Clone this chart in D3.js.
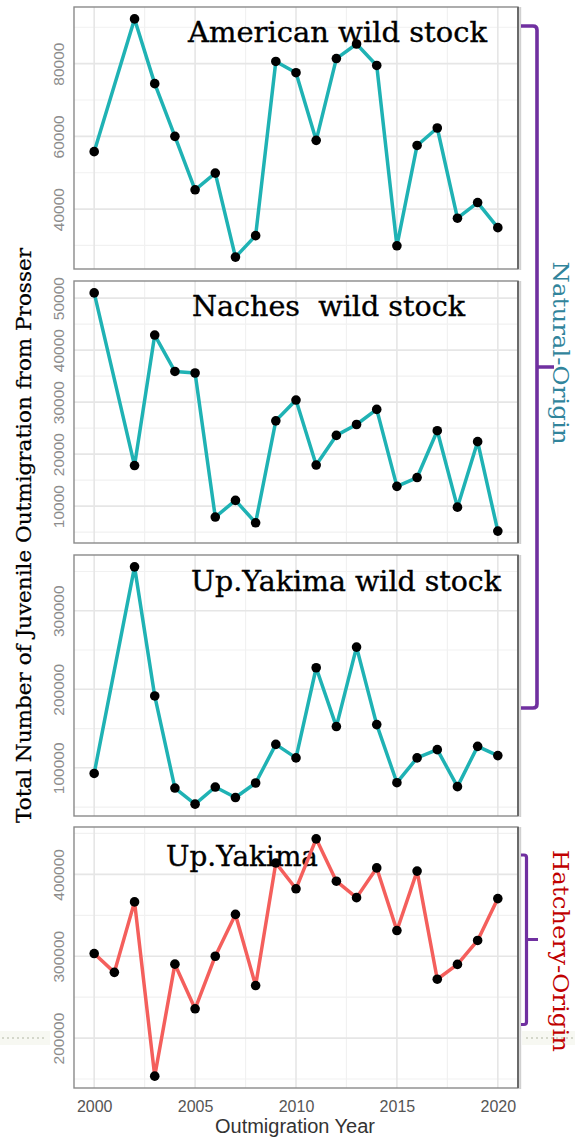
<!DOCTYPE html>
<html>
<head>
<meta charset="utf-8">
<script src="https://cdn.jsdelivr.net/npm/d3@7"></script>
<style>
  body { margin: 0; background: #fff; }
  svg { display: block; }
</style>
</head>
<body>
<script>
const width = 575;
const height = 1138;

// years with a value (wild stock has no 2001 count)
const wildYears = [2000, 2002, 2003, 2004, 2005, 2006, 2007, 2008, 2009, 2010,
  2011, 2012, 2013, 2014, 2015, 2016, 2017, 2018, 2019, 2020];
const hatcheryYears = [2000, 2001, 2002, 2003, 2004, 2005, 2006, 2007, 2008, 2009, 2010,
  2011, 2012, 2013, 2014, 2015, 2016, 2017, 2018, 2019, 2020];

const americanWild = [55800, 92300, 74500, 60000, 45300, 49900, 26800, 32700, 80600, 77500,
  58900, 81400, 85400, 79500, 29900, 57500, 62300, 37500, 41800, 34900];
const nachesWild = [51000, 17800, 42900, 35900, 35600, 7900, 11100, 6800, 26400, 30400,
  17900, 23600, 25700, 28600, 13800, 15500, 24500, 9800, 22400, 5200];
const upYakimaWild = [92800, 355900, 191500, 74200, 53700, 75500, 62100, 80600, 129800, 112600,
  227400, 152500, 253700, 155000, 81000, 112600, 123100, 76000, 127300, 115500];
const upYakimaHatchery = [303300, 280300, 366400, 153500, 290300, 235800, 300000, 351100, 264200, 414000,
  382400, 443400, 391700, 371600, 407900, 331400, 404000, 271900, 290000, 319300, 370400];

const panelTitles = ["American wild stock", "Naches  wild stock", "Up.Yakima wild stock", "Up.Yakima"];
const yTicksAmerican = [40000, 60000, 80000];
const yTicksNaches = [10000, 20000, 30000, 40000, 50000];
const yTicksUpYakima = [100000, 200000, 300000];
const yTicksHatchery = [200000, 300000, 400000];
const xTicks = [2000, 2005, 2010, 2015, 2020];

const teal = "#1fb2b4";
const red = "#f45f5c";

// layout of the four stacked panels
const panels = [
  { years: wildYears, values: americanWild, ticks: yTicksAmerican, color: teal, top: 7, bottom: 269, tx: 188, ty: 42, tw: 299 },
  { years: wildYears, values: nachesWild, ticks: yTicksNaches, color: teal, top: 281, bottom: 543, tx: 192, ty: 316, tw: 273 },
  { years: wildYears, values: upYakimaWild, ticks: yTicksUpYakima, color: teal, top: 555, bottom: 816, tx: 191, ty: 591, tw: 310 },
  { years: hatcheryYears, values: upYakimaHatchery, ticks: yTicksHatchery, color: red, top: 827, bottom: 1088, tx: 166, ty: 866, tw: 152 }
];
panels.forEach((p, i) => p.title = panelTitles[i]);

const left = 74;
const right = 518;

const svg = d3.select("body").append("svg")
  .attr("width", width)
  .attr("height", height);

const x = d3.scaleLinear()
  .domain([1999, 2021])
  .range([left, right]);

// faint dotted strip from the slide behind the chart
svg.append("rect").attr("x", 0).attr("y", 1031).attr("width", 50).attr("height", 14).attr("fill", "#f7f8f2");
svg.append("rect").attr("x", 522).attr("y", 1031).attr("width", 53).attr("height", 14).attr("fill", "#f7f8f2");
svg.append("line").attr("x1", 2).attr("x2", 46).attr("y1", 1038).attr("y2", 1038)
  .attr("stroke", "#c9ccbd").attr("stroke-width", 1.5).attr("stroke-dasharray", "2,3");
svg.append("line").attr("x1", 526).attr("x2", 575).attr("y1", 1038).attr("y2", 1038)
  .attr("stroke", "#c9ccbd").attr("stroke-width", 1.5).attr("stroke-dasharray", "2,3");

panels.forEach(p => {
  const ext = d3.extent(p.values);
  const pad = (ext[1] - ext[0]) * 0.05;
  const y = d3.scaleLinear()
    .domain([ext[0] - pad, ext[1] + pad])
    .range([p.bottom, p.top]);

  const g = svg.append("g");

  g.append("rect")
    .attr("x", left).attr("y", p.top)
    .attr("width", right - left).attr("height", p.bottom - p.top)
    .attr("fill", "white");

  // minor grid
  const step = p.ticks[1] - p.ticks[0];
  const minorY = d3.range(p.ticks[0] - step / 2, p.ticks[p.ticks.length - 1] + step, step)
    .filter(v => y(v) > p.top && y(v) < p.bottom);
  const minorX = [1999, 2002.5, 2007.5, 2012.5, 2017.5].filter(v => x(v) > left + 1);

  g.selectAll(".minor-y").data(minorY).enter().append("line")
    .attr("x1", left).attr("x2", right)
    .attr("y1", d => y(d)).attr("y2", d => y(d))
    .attr("stroke", "#f1f1f1").attr("stroke-width", 1.2);
  g.selectAll(".minor-x").data(minorX).enter().append("line")
    .attr("y1", p.top).attr("y2", p.bottom)
    .attr("x1", d => x(d)).attr("x2", d => x(d))
    .attr("stroke", "#f1f1f1").attr("stroke-width", 1.2);

  // major grid
  g.selectAll(".major-y").data(p.ticks).enter().append("line")
    .attr("x1", left).attr("x2", right)
    .attr("y1", d => y(d)).attr("y2", d => y(d))
    .attr("stroke", "#e6e6e6").attr("stroke-width", 1.6);
  g.selectAll(".major-x").data(xTicks).enter().append("line")
    .attr("y1", p.top).attr("y2", p.bottom)
    .attr("x1", d => x(d)).attr("x2", d => x(d))
    .attr("stroke", "#e6e6e6").attr("stroke-width", 1.6);

  // title
  g.append("text")
    .attr("x", p.tx).attr("y", p.ty)
    .attr("font-family", "DejaVu Serif")
    .attr("font-size", 27)
    .attr("fill", "black")
    .attr("stroke", "black")
    .attr("stroke-width", 0.35)
    .attr("textLength", p.tw)
    .attr("lengthAdjust", "spacingAndGlyphs")
    .style("white-space", "pre")
    .text(p.title);

  const line = d3.line()
    .x((d, i) => x(p.years[i]))
    .y(d => y(d));

  g.append("path")
    .datum(p.values)
    .attr("d", line)
    .attr("fill", "none")
    .attr("stroke", p.color)
    .attr("stroke-width", 3.5)
    .attr("stroke-linejoin", "round");

  g.selectAll("circle").data(p.values).enter().append("circle")
    .attr("cx", (d, i) => x(p.years[i]))
    .attr("cy", d => y(d))
    .attr("r", 4.8)
    .attr("fill", "black");

  // border
  g.append("rect")
    .attr("x", left).attr("y", p.top)
    .attr("width", right - left).attr("height", p.bottom - p.top)
    .attr("fill", "none")
    .attr("stroke", "#8a8a8a").attr("stroke-width", 1.4);
  g.append("line")
    .attr("x1", right).attr("x2", right).attr("y1", p.top).attr("y2", p.bottom)
    .attr("stroke", "#6a6a6a").attr("stroke-width", 2);
  g.append("line")
    .attr("x1", right + 2.2).attr("x2", right + 2.2).attr("y1", p.top).attr("y2", p.bottom + 1)
    .attr("stroke", "#d0d0d0").attr("stroke-width", 2);

  // y axis labels, rotated as in ggplot
  const yAxis = d3.axisLeft(y).tickValues(p.ticks).tickSize(0).tickFormat(d3.format("d"));
  const ya = svg.append("g")
    .attr("transform", `translate(64, 0)`)
    .call(yAxis);
  ya.select(".domain").remove();
  ya.selectAll("text")
    .attr("x", 0).attr("dy", 0)
    .attr("text-anchor", "middle")
    .attr("transform", "rotate(-90)")
    .attr("font-family", "Liberation Sans, Arial, sans-serif")
    .attr("font-size", 15.5)
    .attr("fill", "#8c8c8c");
});

// x axis under the last panel
const xAxis = d3.axisBottom(x).tickValues(xTicks).tickSize(0).tickPadding(12.5).tickFormat(d3.format("d"));
const xa = svg.append("g")
  .attr("transform", "translate(0, 1088)")
  .call(xAxis);
xa.select(".domain").remove();
xa.selectAll("text")
  .attr("font-family", "Liberation Sans, Arial, sans-serif")
  .attr("font-size", 16)
  .attr("fill", "#555");

svg.append("text")
  .attr("x", 295).attr("y", 1133)
  .attr("text-anchor", "middle")
  .attr("font-family", "Liberation Sans, Arial, sans-serif")
  .attr("font-size", 19.5)
  .attr("fill", "#333")
  .attr("textLength", 160)
  .attr("lengthAdjust", "spacingAndGlyphs")
  .text("Outmigration Year");

svg.append("text")
  .attr("transform", "translate(31, 535.5) rotate(-90)")
  .attr("text-anchor", "middle")
  .attr("font-family", "DejaVu Serif")
  .attr("font-size", 21)
  .attr("fill", "black")
  .attr("stroke", "black")
  .attr("stroke-width", 0.25)
  .attr("textLength", 575)
  .attr("lengthAdjust", "spacingAndGlyphs")
  .text("Total Number of Juvenile Outmigration from Prosser");

// brackets
const purple = "#7030a0";
svg.append("path")
  .attr("d", "M521,26 L533,26 Q537,26 537,30 L537,704 Q537,708 533,708 L521,708 M537,367 L554,367")
  .attr("fill", "none").attr("stroke", purple).attr("stroke-width", 3.6);
svg.append("path")
  .attr("d", "M521,855 L524,855 Q526.5,855 526.5,857.5 L526.5,1022 Q526.5,1024.5 524,1024.5 L521,1024.5 M526.5,939.5 L538,939.5")
  .attr("fill", "none").attr("stroke", purple).attr("stroke-width", 3.2);

svg.append("text")
  .attr("transform", "translate(553, 353) rotate(90)")
  .attr("text-anchor", "middle")
  .attr("font-family", "DejaVu Serif")
  .attr("font-size", 22)
  .attr("fill", "#31849b")
  .attr("textLength", 183)
  .attr("lengthAdjust", "spacingAndGlyphs")
  .text("Natural-Origin");

svg.append("text")
  .attr("transform", "translate(553, 951) rotate(90)")
  .attr("text-anchor", "middle")
  .attr("font-family", "DejaVu Serif")
  .attr("font-size", 22)
  .attr("fill", "#c00000")
  .attr("textLength", 202)
  .attr("lengthAdjust", "spacingAndGlyphs")
  .text("Hatchery-Origin");
</script>
</body>
</html>
